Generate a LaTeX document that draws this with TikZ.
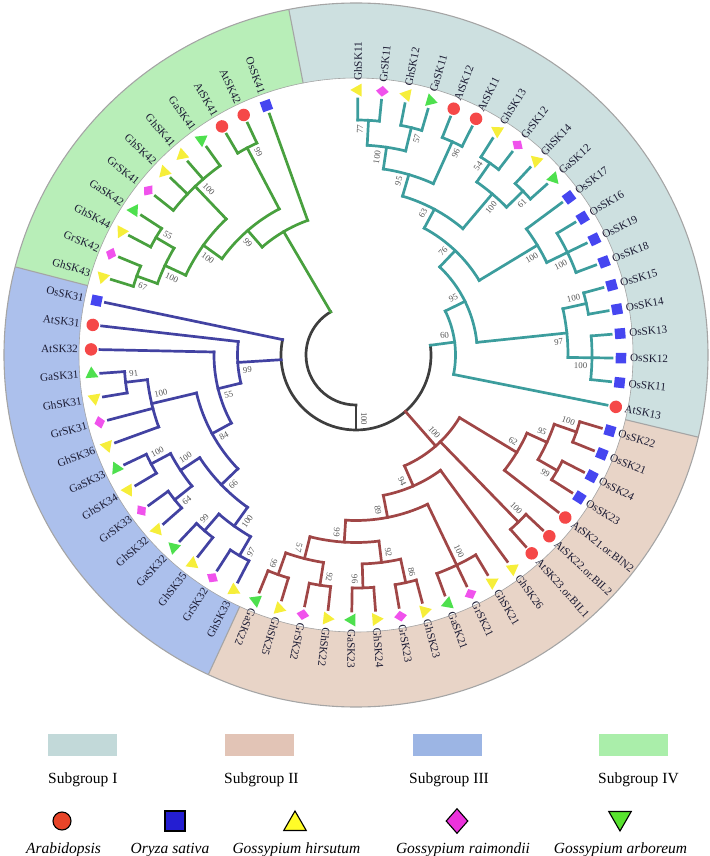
\documentclass[tikz,border=0pt]{standalone}
\usepackage{fontspec}
\setmainfont{Liberation Serif}
\usetikzlibrary{calc,shapes.geometric}

\definecolor{ringI}{RGB}{205,224,224}
\definecolor{ringII}{RGB}{232,212,199}
\definecolor{ringIII}{RGB}{172,192,236}
\definecolor{ringIV}{RGB}{184,238,184}
\definecolor{legI}{RGB}{194,217,217}
\definecolor{legII}{RGB}{226,196,182}
\definecolor{legIII}{RGB}{156,181,228}
\definecolor{legIV}{RGB}{170,238,170}
\definecolor{brI}{RGB}{60,157,157}
\definecolor{brII}{RGB}{160,70,70}
\definecolor{brIII}{RGB}{66,66,162}
\definecolor{brIV}{RGB}{72,160,62}
\definecolor{brroot}{RGB}{62,62,62}
\definecolor{symAt}{RGB}{245,72,72}
\definecolor{symOs}{RGB}{70,70,240}
\definecolor{symGh}{RGB}{246,238,58}
\definecolor{symGr}{RGB}{240,82,236}
\definecolor{symGa}{RGB}{78,224,78}
\definecolor{keyAt}{RGB}{232,68,40}
\definecolor{keyOs}{RGB}{36,30,210}
\definecolor{keyGh}{RGB}{255,252,40}
\definecolor{keyGr}{RGB}{236,50,220}
\definecolor{keyGa}{RGB}{88,226,46}
\definecolor{labtext}{RGB}{28,28,52}
\definecolor{bstext}{RGB}{85,85,85}
\definecolor{ringline}{RGB}{165,165,165}

\begin{document}
\begin{tikzpicture}[x=1pt, y=1pt,
    branch/.style={line width=2.7pt, line cap=rect},
    sAt/.style={circle, fill=symAt, minimum size=12.5pt, inner sep=0pt},
    sOs/.style={rectangle, fill=symOs, minimum size=10.5pt, inner sep=0pt},
    sGh/.style={regular polygon, regular polygon sides=3, fill=symGh, minimum size=15pt, inner sep=0pt},
    sGr/.style={diamond, fill=symGr, minimum width=11pt, minimum height=13pt, inner sep=0pt},
    sGa/.style={regular polygon, regular polygon sides=3, shape border rotate=180, fill=symGa, minimum size=15pt, inner sep=0pt},
    leaflab/.style={font=\fontsize{11.2}{12}\selectfont, text=labtext, inner sep=0pt},
    bslab/.style={font=\fontsize{8.8}{10}\selectfont, text=bstext, inner sep=0pt},
    legbox/.style={minimum width=69pt, minimum height=22pt, inner sep=0pt},
    legtext/.style={font=\fontsize{15.5}{18}\selectfont, inner sep=0pt},
    legit/.style={font=\fontsize{15.5}{18}\selectfont\itshape, inner sep=0pt},
    legkey/.style={draw=black, line width=1.1pt, inner sep=0pt}]
  \useasboundingbox (-356,-501) rectangle (353,355);

  % coloured ring
  \fill[ringI] (101:277) arc[start angle=101, end angle=-13.5, radius=277]
    -- (-13.5:352) arc[start angle=-13.5, end angle=101, radius=352] -- cycle;
  \fill[ringII] (-13.5:277) arc[start angle=-13.5, end angle=-114.8, radius=277]
    -- (-114.8:352) arc[start angle=-114.8, end angle=-13.5, radius=352] -- cycle;
  \fill[ringIII] (-114.8:277) arc[start angle=-114.8, end angle=-194.5, radius=277]
    -- (-194.5:352) arc[start angle=-194.5, end angle=-114.8, radius=352] -- cycle;
  \fill[ringIV] (-194.5:277) arc[start angle=-194.5, end angle=-259, radius=277]
    -- (-259:352) arc[start angle=-259, end angle=-194.5, radius=352] -- cycle;
  \draw[ringline, line width=1.1pt] (0,0) circle[radius=352];
  \draw[ringline, line width=0.6pt] (0,0) circle[radius=277];
  \foreach \bd in {101,-13.5,-114.8,-194.5}
    \draw[ringline, line width=1.1pt] (\bd:277) -- (\bd:352);

  % root
  \draw[branch, brroot] (-90:50) arc[start angle=-90, end angle=-239.62, radius=50];
  \draw[branch, brroot] (-90:50) -- (-90:75);
  \draw[branch, brroot] (7.45:75) arc[start angle=7.45, end angle=-191.83, radius=75];

  % clades: first child / last child / radius / parent radius
  \foreach \col/\lst in {
      brI/{0/1/235/210, 2/3/234/210, 0.5/2.5/210/188, 4/5/234/188, 1.5/4.5/188/165.5,
        6/7/234/211, 8/9/234/211, 6.5/8.5/211/165.5, 3/7.5/165.5/144, 11/13/235/212,
        10/12/212/144, 5.25/11/144/121.5, 14/15/236/212, 16/18/236/212,
        14.5/17/212/121.5, 8.125/15.75/121.5/99.5, 11.9375/19/99.5/75},
      brII/{20/21/233.5/210, 22/23/232/210, 20.5/22.5/210/188, 21.5/24/188/121,
        25/26/233/121, 28/30/233/165.5, 37/38/233/210, 35/36/233/210,
        35.5/37.5/210/187.5, 33/34/233/209, 31/32/233/209, 31.5/33.5/209/187.5,
        32.5/36.5/187.5/165.5, 29/34.5/165.5/143, 27/31.75/143/121, 22.75/29.375/121/75},
      brIII/{49/50/232/210, 47/49.5/210/164, 45/46/232/210, 43/44/232/210,
        43.5/45.5/210/187, 41/42/232/210, 39/40/232/210, 39.5/41.5/210/187,
        40.5/44.5/187/164, 42.5/48.25/164/142, 45.375/51/142/118.5, 48.1875/52/118.5/75},
      brIV/{54/55/233/211, 56/57/232/211, 54.5/56.5/211/188, 58/61/233/188,
        55.5/59.5/188/165, 62/63/234/165, 57.5/62.5/165/143, 60/64/143/50}}{
    \foreach \pa/\pb/\rr/\rp in \lst {
      \pgfmathsetmacro\angA{89.6-5.31*\pa}
      \pgfmathsetmacro\angB{89.6-5.31*\pb}
      \pgfmathsetmacro\angM{(\angA+\angB)/2}
      \draw[branch, \col] (\angA:\rr) arc[start angle=\angA, end angle=\angB, radius=\rr];
      \draw[branch, \col] (\angM:\rp) -- (\angM:\rr);
    }
  }

  % leaf branches
  \foreach \col/\lst in {
      brI/{0/235, 1/235, 2/234, 3/234, 4/234, 5/234, 6/234, 7/234, 8/234, 9/234, 10/212,
        11/235, 12/235, 13/235, 14/236, 15/236, 16/236, 17/236, 18/236, 19/99.5},
      brII/{20/233.5, 21/233.5, 22/232, 23/232, 24/188, 25/233, 26/233, 27/143, 28/233,
        29/233, 30/233, 31/233, 32/233, 33/233, 34/233, 35/233, 36/233, 37/233, 38/233},
      brIII/{39/232, 40/232, 41/232, 42/232, 43/232, 44/232, 45/232, 46/232, 47/210,
        48/210, 49/232, 50/232, 51/142, 52/118.5, 53/75},
      brIV/{54/233, 55/233, 56/232, 57/232, 58/233, 59/233, 60/233, 61/233, 62/234,
        63/234, 64/143}}{
    \foreach \idx/\rp in \lst {
      \pgfmathsetmacro\ang{89.6-5.31*\idx}
      \draw[branch, \col] (\ang:\rp) -- (\ang:256);
    }
  }

  % bootstrap values
  \foreach \p/\rr/\txt/\sd [count=\kk] in {
      0.5/235/77/1, 2.5/234/57/-1, 1.5/210/100/1, 4.5/234/96/-1, 3/188/95/1,
      6.5/234/54/1, 8.5/234/61/-1, 7.5/211/100/-1, 5.25/165.5/63/1, 12/235/100/-1,
      11/212/100/-1, 8.125/144/76/1, 14.5/236/100/1, 17/236/100/-1, 15.75/212/97/-1,
      11.9375/121.5/95/1, 15.47/99.5/60/1,
      20.5/233.5/100/1, 22.5/232/99/-1, 21.5/210/95/1, 22.75/188/62/1, 25.5/233/100/1,
      26.0625/121/100/1, 29.375/143/94/-1, 31.75/165.5/89/-1, 29/233/100/1,
      34.5/187.5/99/-1, 32.5/209/92/1, 36.5/210/57/-1, 37.5/233/99/-1, 35.5/233/92/1,
      33.5/233/96/-1, 31.5/233/86/1,
      49.5/232/91/-1, 48.25/210/100/-1, 45.5/232/100/-1, 43.5/232/64/1, 44.5/210/100/-1,
      41.5/232/99/-1, 39.5/232/97/1, 40.5/210/100/1, 42.5/187/66/1, 45.375/164/84/1,
      48.1875/142/55/1, 50.09/118.5/99/1,
      54.5/233/67/1, 56.5/232/55/-1, 55.5/211/100/1, 59.5/233/100/-1, 57.5/188/100/1,
      62.5/234/99/-1, 60/165/99/1,
      33.823/75/100/1}{
    \pgfmathsetmacro\ang{89.6-5.31*\p}
    \ifdim\ang pt<-115pt
      \pgfmathsetmacro\rot{\ang+180}\def\anc{west}
    \else
      \pgfmathsetmacro\rot{\ang}\def\anc{east}
    \fi
    \node[bslab, rotate=\rot, anchor=\anc] (b\kk) at ($(\ang:\rr-4.5)+(\ang+90:\sd*8)$) {\txt};
  }

  % leaves
  \foreach \idx/\nm/\st in {
      0/GhSK11/sGh, 1/GrSK11/sGr, 2/GhSK12/sGh, 3/GaSK11/sGa, 4/AtSK12/sAt,
      5/AtSK11/sAt, 6/GhSK13/sGh, 7/GrSK12/sGr, 8/GhSK14/sGh, 9/GaSK12/sGa,
      10/OsSK17/sOs, 11/OsSK16/sOs, 12/OsSK19/sOs, 13/OsSK18/sOs, 14/OsSK15/sOs,
      15/OsSK14/sOs, 16/OsSK13/sOs, 17/OsSK12/sOs, 18/OsSK11/sOs, 19/AtSK13/sAt,
      20/OsSK22/sOs, 21/OsSK21/sOs, 22/OsSK24/sOs, 23/OsSK23/sOs,
      24/AtSK21.or.BIN2/sAt, 25/AtSK22.or.BIL2/sAt, 26/AtSK23.or.BIL1/sAt,
      27/GhSK26/sGh, 28/GhSK21/sGh, 29/GrSK21/sGr, 30/GaSK21/sGa, 31/GhSK23/sGh,
      32/GrSK23/sGr, 33/GhSK24/sGh, 34/GaSK23/sGa, 35/GhSK22/sGh, 36/GrSK22/sGr,
      37/GhSK25/sGh, 38/GaSK22/sGa,
      39/GhSK33/sGh, 40/GrSK32/sGr, 41/GhSK35/sGh, 42/GaSK32/sGa, 43/GhSK32/sGh,
      44/GrSK33/sGr, 45/GhSK34/sGh, 46/GaSK33/sGa, 47/GhSK36/sGh, 48/GrSK31/sGr,
      49/GhSK31/sGh, 50/GaSK31/sGa, 51/AtSK32/sAt, 52/AtSK31/sAt, 53/OsSK31/sOs,
      54/GhSK43/sGh, 55/GrSK42/sGr, 56/GhSK44/sGh, 57/GaSK42/sGa, 58/GrSK41/sGr,
      59/GhSK42/sGh, 60/GhSK41/sGh, 61/GaSK41/sGa, 62/AtSK41/sAt, 63/AtSK42/sAt,
      64/OsSK41/sOs}{
    \pgfmathsetmacro\ang{89.6-5.31*\idx}
    \node[\st, rotate=\ang] (s\idx) at (\ang:265) {};
    \ifnum\idx<39
      \node[leaflab, rotate=\ang, anchor=west] (t\idx) at (\ang:274) {\nm};
    \else
      \pgfmathsetmacro\rot{\ang+180}
      \node[leaflab, rotate=\rot, anchor=east] (t\idx) at (\ang:278) {\nm};
    \fi
  }

  % legend
  \node[legbox, fill=legI] (box1) at (-273.5,-390) {};
  \node[legbox, fill=legII] (box2) at (-96,-390) {};
  \node[legbox, fill=legIII] (box3) at (91,-390) {};
  \node[legbox, fill=legIV] (box4) at (277.5,-390) {};
  \node[legtext, anchor=base west] (grp1) at (-308,-428) {Subgroup I};
  \node[legtext, anchor=base west] (grp2) at (-132,-428) {Subgroup II};
  \node[legtext, anchor=base west] (grp3) at (53,-428) {Subgroup III};
  \node[legtext, anchor=base west] (grp4) at (242,-428) {Subgroup IV};

  \node[legkey, circle, fill=keyAt, minimum size=18pt] (key1) at (-294,-466) {};
  \node[legkey, rectangle, fill=keyOs, minimum size=20pt] (key2) at (-181,-466) {};
  \node[legkey, regular polygon, regular polygon sides=3, fill=keyGh,
    minimum size=26pt] (key3) at (-61,-469) {};
  \node[legkey, diamond, fill=keyGr, minimum width=22pt, minimum height=25pt] (key4) at (101,-466) {};
  \node[legkey, regular polygon, regular polygon sides=3, shape border rotate=180,
    fill=keyGa, minimum size=26pt] (key5) at (264,-463) {};
  \node[legit, anchor=base] (sp1) at (-292.5,-498) {Arabidopsis};
  \node[legit, anchor=base] (sp2) at (-186,-498) {Oryza sativa};
  \node[legit, anchor=base] (sp3) at (-59.5,-498) {Gossypium hirsutum};
  \node[legit, anchor=base] (sp4) at (107,-498) {Gossypium raimondii};
  \node[legit, anchor=base] (sp5) at (264.5,-498) {Gossypium arboreum};
\end{tikzpicture}
\end{document}
